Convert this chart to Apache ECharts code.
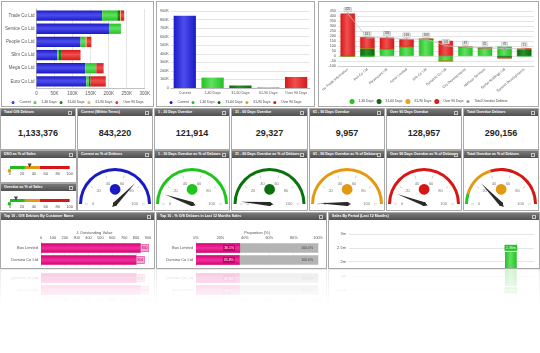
<!DOCTYPE html>
<html>
<head>
<meta charset="utf-8">
<script src="https://cdn.jsdelivr.net/npm/echarts@6/dist/echarts.min.js"></script>
<style>
body { margin: 0; width: 540px; height: 353px; background: #fff; overflow: hidden; position: relative; font-family: 'Liberation Sans', Arial, sans-serif; }
.panel { position: absolute; border: 1px solid #a9a9a9; box-sizing: border-box; background: #fff; overflow: hidden; }
.hd { position: absolute; left: 0; right: 0; top: 0; height: 7px; background: linear-gradient(#7a7a7a, #4f4f4f); color: #fff; font-size: 3.6px; font-weight: bold; line-height: 7px; padding-left: 3px; padding-right: 8px; white-space: nowrap; overflow: hidden; }
.hd:after { content: ''; position: absolute; right: 3px; top: 2px; width: 2px; height: 2px; border: 0.6px solid #c8c8c8; }
.body { position: absolute; left: 0; right: 0; bottom: 0; }
.kpi { display: flex; align-items: center; justify-content: center; font-size: 9px; font-weight: bold; color: #262626; }
#bottom { position: absolute; left: 0; top: 212px; width: 540px; height: 57px; -webkit-box-reflect: below 0 linear-gradient(transparent 35%, rgba(0,0,0,0.25)); }
</style>
</head>
<body>
<div id="page"></div>
<div id="bottom"></div>
<script>
const fontFamily = 'Liberation Sans, Arial, sans-serif';

// age bands
const bandNames = ['Current', '1-30 Days', '31-60 Days', '61-90 Days', 'Over 90 Days'];
const bandColors = ['#1b1bc6', '#22c222', '#0b690b', '#e2a11b', '#d61818'];
const bandLight = ['#4d4dee', '#62e062', '#2a8f2a', '#f5c45a', '#f05050'];

// top left - debtors by customer
const customers = ['Trade Co Ltd', 'Service Co Ltd', 'People Co Ltd', 'Slim Co Ltd', 'Mega Co Ltd', 'Euro Co Ltd'];
const custCurrent = [182000, 201000, 122000, 57000, 135000, 138000];
const cust1to30 = [42000, 33000, 12000, 5000, 30000, 7000];
const cust31to60 = [8000, 0, 2000, 6000, 1000, 5000];
const cust61to90 = [2000, 0, 3000, 0, 0, 0];
const custOver90 = [9000, 0, 13000, 54000, 20000, 42000];

// top middle - totals by age band
const bandTotals = [843220, 121914, 29327, 9957, 128957];

// top right - overdue by customer
const odCustomers = ['No Trade Information', 'Bolt Co Ltd', 'Paramount Ltd', 'Acme Limited', 'Orb Co Ltd', 'Dynamic Co Ltd', 'City Developments', 'Harbour Services', 'Stellar Holdings Ltd', 'Summit Developments'];
const od1to30 = [0, -8, 71, 94, 168, -49, 87, 81, 94, 0];
const od31to60 = [0, 78, 0, 0, 0, 0, 0, 0, -19, 71];
const od61to90 = [0, 0, 0, 0, 0, 0, 0, 0, 0, 0];
const odOver90 = [425, 111, 113, 75, 0, 152, 0, 0, 0, 0];
const odTotal = [425, 181, 184, 169, 168, 103, 87, 81, 75, 71];

// KPIs
const kpiTitles = ['Total O/S Debtors', 'Current (Within Terms)', '1 - 30 Days Overdue', '31 - 60 Days Overdue', '61 - 90 Days Overdue', 'Over 90 Days Overdue', 'Total Overdue Debtors'];
const kpiValues = [1133376, 843220, 121914, 29327, 9957, 128957, 290156];

// gauges
const gaugeTitles = ['Current as % of Debtors', '1 - 30 Days Overdue as % of Debtors', '31 - 60 Days Overdue as % of Debtors', '61 - 90 Days Overdue as % of Debtors', 'Over 90 Days Overdue as % of Debtors', 'Total Overdue as % of Debtors'];
const gaugeValues = [74.4, 10.8, 2.6, 0.9, 11.4, 25.6];
const gaugeColors = ['#1a1ac4', '#1fc41f', '#0b720b', '#e39a12', '#d81616', null];
const overdueBands = [[0.1, '#26c226'], [0.4, '#e39a12'], [1, '#d81616']];

// linear gauges
const linearTitles = ['DSO as % of Sales', 'Overdue as % of Sales'];
const linearValues = [33, 10];
const linearEdges = [0, 25, 50, 100];
const linearColors = ['#22bb22', '#e39a12', '#d81616'];

// bottom row
const topCustomers = ['Box Limited', 'Domino Co Ltd'];
const topValues = [840, 804];
const propValues = [36.1, 35.8];
const periods = ['Apr', 'May', 'Jun', 'Jul', 'Aug', 'Sep', 'Oct', 'Nov', 'Dec', 'Jan', 'Feb', 'Mar'];
const salesValues = [null, null, null, null, null, null, null, null, null, null, 2356000, null];

const page = document.getElementById('page');
const bottom = document.getElementById('bottom');

function panel(parent, x, y, w, h, title, bodyH) {
    const p = document.createElement('div');
    p.className = 'panel';
    p.style.cssText = `left:${x}px;top:${y}px;width:${w}px;height:${h}px`;
    let top = 0;
    if (title) {
        const hd = document.createElement('div');
        hd.className = 'hd';
        hd.textContent = title;
        p.appendChild(hd);
        top = 7;
    }
    const b = document.createElement('div');
    b.className = 'body';
    b.style.top = top + 'px';
    if (bodyH) { b.style.bottom = 'auto'; b.style.height = bodyH + 'px'; }
    p.appendChild(b);
    parent.appendChild(p);
    return b;
}

function gloss(i, horizontal) {
    return new echarts.graphic.LinearGradient(0, 0, horizontal ? 0 : 1, horizontal ? 1 : 0, [
        { offset: 0, color: bandColors[i] }, { offset: 0.45, color: bandLight[i] }, { offset: 1, color: bandColors[i] }
    ]);
}

const small = { fontSize: 4.5, color: '#555', fontFamily: fontFamily };
const legendBase = { bottom: 2, left: 'center', width: '98%', padding: 0, itemWidth: 3, itemHeight: 3, itemGap: 3, icon: 'circle', textStyle: { fontSize: 3.3, color: '#444', fontFamily: fontFamily } };
const kFmt = v => v === 0 ? '0' : (v / 1000) + 'K';

// ---------- top left ----------
let el = panel(page, 1, 1, 153, 106);
const custSeries = [custCurrent, cust1to30, cust31to60, cust61to90, custOver90];
echarts.init(el).setOption({
    animation: false,
    textStyle: { fontFamily: fontFamily },
    legend: { ...legendBase, data: bandNames },
    grid: { left: 29, right: 5, top: 7, bottom: 18 },
    xAxis: { type: 'value', min: 0, max: 300000, interval: 50000, axisLabel: { ...small, formatter: kFmt, margin: 3 }, splitLine: { lineStyle: { color: '#d4d4d4', width: 0.6 } }, axisLine: { show: true, lineStyle: { color: '#999', width: 0.6 } } },
    yAxis: { type: 'category', inverse: true, data: customers, axisLabel: { ...small, margin: 2 }, axisTick: { show: false }, axisLine: { lineStyle: { color: '#999', width: 0.6 } } },
    series: custSeries.map((d, i) => ({ name: bandNames[i], type: 'bar', stack: 'a', data: d, barCategoryGap: '22%', itemStyle: { color: gloss(i, true) } }))
});

// ---------- top middle ----------
el = panel(page, 156, 1, 159, 106);
echarts.init(el).setOption({
    animation: false,
    textStyle: { fontFamily: fontFamily },
    legend: { ...legendBase, data: bandNames.map((n, i) => ({ name: n, itemStyle: { color: bandColors[i] } })) },
    grid: { left: 12, right: 4, top: 9, bottom: 18 },
    xAxis: { type: 'category', data: bandNames, axisLabel: { ...small, fontSize: 3.6, margin: 3, interval: 0 }, axisTick: { show: false }, axisLine: { lineStyle: { color: '#999', width: 0.6 } } },
    yAxis: { type: 'value', min: 0, max: 900000, interval: 100000, axisLabel: { ...small, fontSize: 3.8, formatter: kFmt, margin: 2 }, splitLine: { lineStyle: { color: '#d4d4d4', width: 0.6 } } },
    series: bandNames.map((n, i) => ({
        name: n, type: 'bar', stack: 'b',
        data: bandTotals.map((v, j) => j === i ? v : null),
        barWidth: '80%',
        itemStyle: { color: gloss(i, false) }
    }))
});

// ---------- top right ----------
el = panel(page, 318, 1, 221, 106);
const odSeries = [od1to30, od31to60, od61to90, odOver90];
echarts.init(el).setOption({
    animation: false,
    textStyle: { fontFamily: fontFamily },
    legend: { ...legendBase, data: [...bandNames.slice(1), 'Total Overdue Debtors'] },
    grid: { left: 18, right: 4, top: 9, bottom: 40 },
    xAxis: { type: 'category', data: odCustomers, axisLabel: { ...small, fontSize: 3.5, rotate: 40, interval: 0, margin: 3 }, axisTick: { show: false }, axisLine: { onZero: false, lineStyle: { color: '#bbb', width: 0.6 } } },
    yAxis: { type: 'value', min: -100, max: 450, interval: 50, axisLabel: { ...small, fontSize: 3.8, margin: 2 }, splitLine: { lineStyle: { color: '#d4d4d4', width: 0.6 } } },
    series: [
        ...odSeries.map((d, i) => ({ name: bandNames[i + 1], type: 'bar', stack: 'o', data: d, barWidth: '74%', itemStyle: { color: gloss(i + 1, false), borderColor: bandColors[i + 1], borderWidth: 0.5 } })),
        { name: 'Total Overdue Debtors', type: 'line', data: odTotal, symbol: 'circle', symbolSize: 2, itemStyle: { color: '#999' }, lineStyle: { color: '#c4c4c4', width: 0.8 },
          label: { show: true, fontSize: 3, color: '#444', backgroundColor: '#e4e4e4', borderColor: '#aaa', borderWidth: 0.4, padding: [0.5, 1], distance: 1 } }
    ]
});

// ---------- KPI row ----------
kpiTitles.forEach((t, i) => {
    const x = Math.round(i * 540 / 7);
    const w = Math.round((i + 1) * 540 / 7) - x - 1;
    const b = panel(page, x, 108, w, 42, t);
    b.classList.add('kpi');
    b.textContent = kpiValues[i].toLocaleString('en-GB');
});

// ---------- linear gauges ----------
[[150, 33, 8], [183, 28, 8]].forEach(([y, h, barTop], k) => {
    const b = panel(page, 0, y, 77, h, linearTitles[k]);
    const v = linearValues[k];
    const cIdx = linearEdges.findIndex((e, j) => j > 0 && v <= e) - 1;
    echarts.init(b).setOption({
        animation: false,
        textStyle: { fontFamily: fontFamily },
        title: { text: '●', left: 1, top: barTop - 4, textStyle: { fontSize: 8, color: linearColors[cIdx], fontWeight: 'normal' } },
        grid: { left: 9, right: 3, top: barTop, height: 3 },
        xAxis: { type: 'value', min: 0, max: 100, interval: 20, axisLabel: { ...small, fontSize: 4, margin: 3 }, axisLine: { show: false }, axisTick: { show: false }, splitLine: { show: false } },
        yAxis: { type: 'category', data: [''], show: false },
        series: [
            ...linearColors.map((c, j) => ({ type: 'bar', stack: 'l', data: [linearEdges[j + 1] - linearEdges[j]], barWidth: 3, itemStyle: { color: c } })),
            { type: 'scatter', data: [[v, '']], symbol: 'triangle', symbolRotate: 180, symbolSize: [4, 4], symbolOffset: [0, -2], itemStyle: { color: '#111' }, z: 5 }
        ]
    });
});

// ---------- round gauges ----------
gaugeTitles.forEach((t, i) => {
    const x = Math.round((i + 1) * 540 / 7);
    const w = Math.round((i + 2) * 540 / 7) - x - 1;
    const b = panel(page, x, 150, w, 61, t);
    const v = gaugeValues[i];
    const arc = gaugeColors[i] ? [[1, gaugeColors[i]]] : overdueBands;
    const dot = gaugeColors[i] || overdueBands.find(s => v / 100 <= s[0])[1];
    echarts.init(b).setOption({
        animation: false,
        series: [{
            type: 'gauge', startAngle: 180, endAngle: 0, min: 0, max: 100, splitNumber: 5,
            center: ['50%', 46], radius: 36,
            axisLine: { lineStyle: { width: 3, color: arc } },
            splitLine: { distance: 3, length: 3, lineStyle: { color: '#bbb', width: 0.7 } },
            axisTick: { show: false },
            axisLabel: { distance: 7, fontSize: 4, color: '#777', fontFamily: fontFamily },
            pointer: { length: '80%', width: 2, itemStyle: { color: '#2a2a2a' } },
            anchor: { show: true, size: 4, itemStyle: { color: '#111' } },
            title: { show: false },
            detail: { offsetCenter: [0, -15], formatter: '●', fontSize: 14, color: dot, fontFamily: 'DejaVu Sans' },
            data: [{ value: v }]
        }]
    });
});

// ---------- bottom row ----------
const pink = new echarts.graphic.LinearGradient(0, 0, 0, 1, [{ offset: 0, color: '#d90076' }, { offset: 0.5, color: '#f0309a' }, { offset: 1, color: '#d90076' }]);

el = panel(bottom, 0, 0, 155, 57, 'Top 10 - O/S Debtors By Customer Name');
echarts.init(el).setOption({
    animation: false,
    textStyle: { fontFamily: fontFamily },
    grid: { left: 40, right: 5, top: 22, height: 24 },
    xAxis: { type: 'value', position: 'top', min: 0, max: 900, interval: 100, name: '£ Outstanding Value', nameLocation: 'middle', nameGap: 7, nameTextStyle: { ...small, fontSize: 4 },
             axisLabel: { ...small, fontSize: 3.8, margin: 2 }, axisLine: { show: false }, axisTick: { show: false }, splitLine: { lineStyle: { color: '#e3e3e3', width: 0.5 } } },
    yAxis: { type: 'category', inverse: true, data: topCustomers, axisLabel: { ...small, fontSize: 4, margin: 3 }, axisTick: { show: false }, axisLine: { lineStyle: { color: '#bbb', width: 0.5 } } },
    series: [{ type: 'bar', data: topValues, barCategoryGap: '22%', itemStyle: { color: pink },
               label: { show: true, position: 'right', distance: 0, fontSize: 3.5, color: '#b0005c', backgroundColor: '#f7a8d3', borderColor: '#e5007d', borderWidth: 0.4, padding: [1.5, 1] } }]
});

el = panel(bottom, 156, 0, 171, 57, 'Top 10 - % O/S Debtors in Last 12 Months Sales');
echarts.init(el).setOption({
    animation: false,
    textStyle: { fontFamily: fontFamily },
    grid: { left: 39, right: 6, top: 22, height: 24 },
    xAxis: { type: 'value', position: 'top', min: 0, max: 100, interval: 20, name: 'Proportion (%)', nameLocation: 'middle', nameGap: 7, nameTextStyle: { ...small, fontSize: 4 },
             axisLabel: { ...small, fontSize: 3.8, margin: 2, formatter: '{value}%' }, axisLine: { show: false }, axisTick: { show: false }, splitLine: { lineStyle: { color: '#e3e3e3', width: 0.5 } } },
    yAxis: { type: 'category', inverse: true, data: topCustomers, axisLabel: { ...small, fontSize: 4, margin: 3 }, axisTick: { show: false }, axisLine: { lineStyle: { color: '#bbb', width: 0.5 } } },
    series: [
        { type: 'bar', data: topCustomers.map(() => 100), barCategoryGap: '22%', barGap: '-100%', itemStyle: { color: '#b4b4b4' },
          label: { show: true, position: 'insideRight', fontSize: 3.5, color: '#444', formatter: p => p.value.toFixed(1) + '%' } },
        { type: 'bar', data: propValues, itemStyle: { color: pink },
          label: { show: true, position: 'insideRight', fontSize: 3.5, color: '#fff', backgroundColor: '#c4006a', padding: [1, 1], formatter: p => p.value.toFixed(1) + '%' } }
    ]
});

el = panel(bottom, 328, 0, 212, 57, 'Sales By Period (Last 12 Months)', 110);
echarts.init(el).setOption({
    animation: false,
    textStyle: { fontFamily: fontFamily },
    grid: { left: 20, right: 5, top: 14, bottom: 7 },
    xAxis: { type: 'category', data: periods, axisLabel: { ...small }, axisTick: { show: false }, axisLine: { lineStyle: { color: '#bbb' } } },
    yAxis: { type: 'value', min: 0, max: 3000000, interval: 500000, axisLabel: { ...small, fontSize: 4, margin: 3, formatter: v => (v / 1000000) + 'm' }, splitLine: { lineStyle: { color: '#d4d4d4', width: 0.6 } } },
    series: [{ type: 'bar', data: salesValues, barWidth: '76%', itemStyle: { color: gloss(1, false) },
               label: { show: true, position: 'top', distance: 1, fontSize: 3.5, color: '#fff', backgroundColor: '#22c222', padding: [1, 1.5], formatter: p => (p.value / 1000000).toFixed(2) + 'm' } }]
});
</script>
</body>
</html>
